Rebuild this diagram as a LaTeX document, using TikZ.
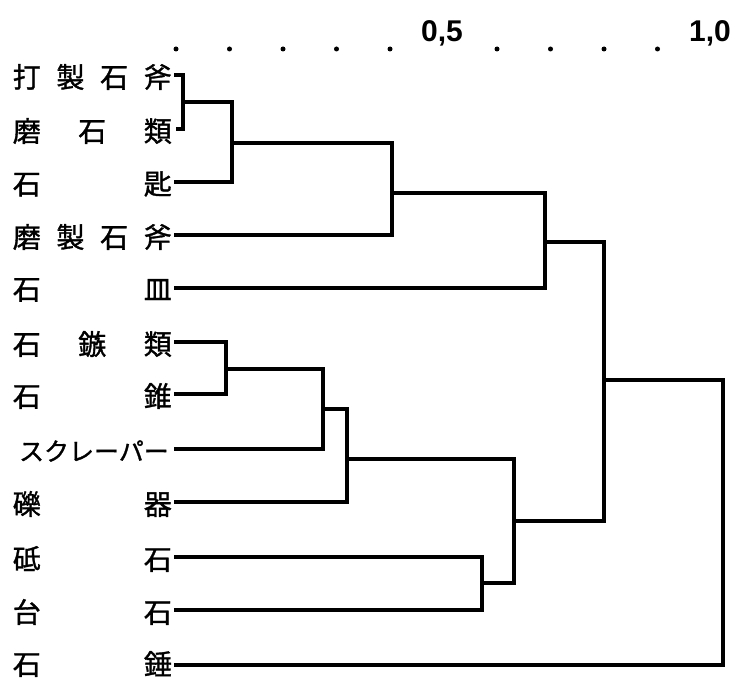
\documentclass[tikz,border=0pt]{standalone}
\usepackage{fontspec}
\newfontfamily\jp{Noto Sans CJK JP}[FakeBold=1.2]
\newfontfamily\numfont{Liberation Sans}
\begin{document}
\begin{tikzpicture}[x=1pt,y=-1pt,
  den/.style={line width=3.2pt, line join=miter, line cap=rect},
  lab/.style={font=\jp\fontsize{28}{30}\selectfont, inner sep=0pt, anchor=east},
  kata/.style={font=\jp\fontsize{25}{27}\selectfont, inner sep=0pt, anchor=east},
  ax/.style={font=\numfont\bfseries\fontsize{30}{32}\selectfont, inner sep=0pt, anchor=base},
  dotmark/.style={circle, fill, inner sep=0pt, minimum size=5pt}]
\useasboundingbox (0,0) rectangle (733,679);

% axis
\foreach \k in {0,1,2,3,4,6,7,8,9}
  \node[dotmark] (d\k) at ({176+53.5*\k},49) {};
\node[ax] (t05) at (442,42) {0,5};
\node[ax] (t10) at (710,42) {1,0};

% labels
\node[lab] (l1)  at (172,77)  {\makebox[159pt]{打\hfill 製\hfill 石\hfill 斧}};
\node[lab] (l2)  at (172,131) {\makebox[159pt]{磨\hfill 石\hfill 類}};
\node[lab] (l3)  at (172,184) {\makebox[159pt]{石\hfill 匙}};
\node[lab] (l4)  at (172,237) {\makebox[159pt]{磨\hfill 製\hfill 石\hfill 斧}};
\node[lab] (l5)  at (172,290) {\makebox[159pt]{石\hfill 皿}};
\node[lab] (l6)  at (172,344) {\makebox[159pt]{石\hfill 鏃\hfill 類}};
\node[lab] (l7)  at (172,396) {\makebox[159pt]{石\hfill 錐}};
\node[kata] (l8) at (169,451) {スクレーパー};
\node[lab] (l9)  at (172,504) {\makebox[159pt]{礫\hfill 器}};
\node[lab] (l10) at (172,559) {\makebox[159pt]{砥\hfill 石}};
\node[lab] (l11) at (172,612) {\makebox[159pt]{台\hfill 石}};
\node[lab] (l12) at (172,664) {\makebox[159pt]{石\hfill 錘}};

% leaf ends
\coordinate (a1)  at (176,75);
\coordinate (a2)  at (178,129);
\coordinate (a3)  at (176,182);
\coordinate (a4)  at (176,235);
\coordinate (a5)  at (176,288);
\coordinate (a6)  at (176,342);
\coordinate (a7)  at (176,394);
\coordinate (a8)  at (176,449);
\coordinate (a9)  at (176,502);
\coordinate (a10) at (176,557);
\coordinate (a11) at (176,610);
\coordinate (a12) at (176,665);

% joins
\coordinate (j1)  at (183,102);
\coordinate (j2)  at (232,143);
\coordinate (j3)  at (392,193);
\coordinate (j4)  at (545,242);
\coordinate (j5)  at (226,369);
\coordinate (j6)  at (323,409);
\coordinate (j7)  at (347,459);
\coordinate (j8)  at (482,583);
\coordinate (j9)  at (514,521);
\coordinate (j10) at (604,380);
\coordinate (j11) at (723,522);

\draw[den] (a1) -| (j1) |- (a2);
\draw[den] (j1) -| (j2) |- (a3);
\draw[den] (j2) -| (j3) |- (a4);
\draw[den] (j3) -| (j4) |- (a5);
\draw[den] (a6) -| (j5) |- (a7);
\draw[den] (j5) -| (j6) |- (a8);
\draw[den] (j6) -| (j7) |- (a9);
\draw[den] (a10) -| (j8) |- (a11);
\draw[den] (j7) -| (j9) |- (j8);
\draw[den] (j4) -| (j10) |- (j9);
\draw[den] (j10) -| (j11) |- (a12);
\end{tikzpicture}
\end{document}
